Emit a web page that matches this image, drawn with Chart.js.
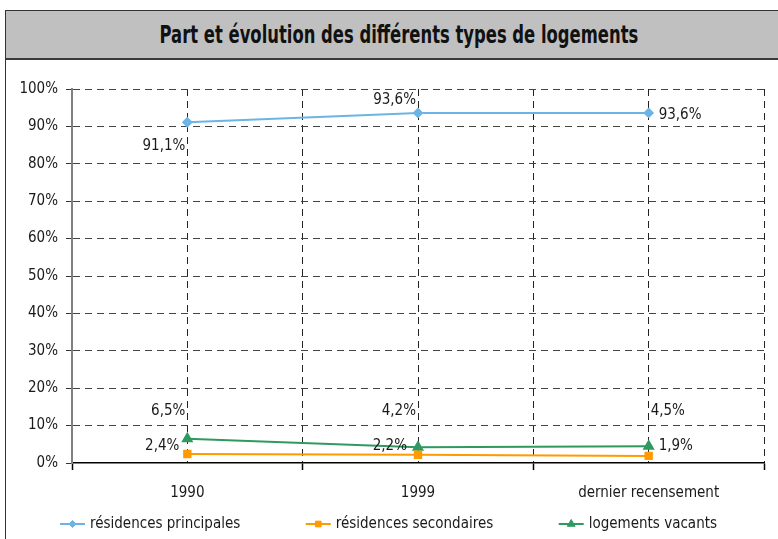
<!DOCTYPE html>
<html>
<head>
<meta charset="utf-8">
<script src="https://cdn.jsdelivr.net/npm/chart.js@4/dist/chart.umd.min.js"></script>
<style>
  body { margin: 0; width: 778px; height: 539px; overflow: hidden; background: #fff; }
  #frame { position: absolute; left: 5px; top: 10px; width: 800px; height: 560px;
           border-left: 1.5px solid #333; border-top: 1.5px solid #333; }
  #title { width: 785px; height: 47px; background: #c0c0c0; border-bottom: 2px solid #3a3a3a;
           color: #111; line-height: 47px; text-align: center; white-space: nowrap; }
  #title span { display: inline-block; position: relative; top: 3px;
                font: bold 24px 'DejaVu Sans Condensed', 'Liberation Sans Narrow', sans-serif;
                transform: scaleX(0.76); transform-origin: center; }
  #box { position: absolute; left: 0.5px; top: 50px; }
</style>
</head>
<body>
<div id="frame">
  <div id="title"><span>Part et évolution des différents types de logements</span></div>
  <div id="box"><canvas id="chart" width="771" height="478"></canvas></div>
</div>
<script>
var categories = ['1990', '1999', 'dernier recensement'];
var residencesPrincipales = [91.1, 93.6, 93.6];
var residencesSecondaires = [2.4, 2.2, 1.9];
var logementsVacants = [6.5, 4.2, 4.5];
var yTickValues = [0, 10, 20, 30, 40, 50, 60, 70, 80, 90, 100];

var FONT = "'Liberation Sans Narrow', 'DejaVu Sans Condensed', sans-serif";

// decalage des etiquettes [dx, dy, alignement]
var offsetsPrincipales = [[-2, 24, 'right'], [-2, -13, 'right'], [10, 2, 'left']];
var offsetsSecondaires = [[-8, -8, 'right'], [-11, -9, 'right'], [10, -10, 'left']];
var offsetsVacants = [[-2, -28, 'right'], [-2, -36, 'right'], [2, -35, 'left']];

function toPoints(values) {
    return values.map(function (v, i) { return { x: i + 0.5, y: v }; });
}

var pointLabels = {
    id: 'pointLabels',
    afterDatasetsDraw: function (chart) {
        var ctx = chart.ctx;
        ctx.save();
        ctx.font = '15px ' + FONT;
        ctx.fillStyle = '#1a1a1a';
        ctx.textBaseline = 'middle';
        chart.data.datasets.forEach(function (ds, di) {
            chart.getDatasetMeta(di).data.forEach(function (pt, i) {
                var o = ds.labelOffsets[i];
                ctx.textAlign = o[2];
                var txt = ds.data[i].y.toFixed(1).replace('.', ',') + '%';
                ctx.fillText(txt, pt.x + o[0], pt.y + o[1]);
            });
        });
        ctx.restore();
    }
};

var lineLegend = {
    id: 'lineLegend',
    afterDraw: function (chart) {
        var ctx = chart.ctx;
        ctx.save();
        ctx.font = '15px ' + FONT;
        ctx.textBaseline = 'middle';
        ctx.textAlign = 'left';
        var items = chart.data.datasets.map(function (ds) {
            return { ds: ds, w: 30 + ctx.measureText(ds.label).width };
        });
        var start = 53, end = 710;
        var sum = items.reduce(function (a, it) { return a + it.w; }, 0);
        var gap = (end - start - sum) / (items.length - 1);
        var x = start, y = 463;
        items.forEach(function (it) {
            var ds = it.ds;
            ctx.strokeStyle = ds.borderColor;
            ctx.fillStyle = ds.pointBackgroundColor;
            ctx.lineWidth = 2;
            ctx.beginPath();
            ctx.moveTo(x, y);
            ctx.lineTo(x + 25, y);
            ctx.stroke();
            ctx.lineWidth = 1;
            ctx.strokeStyle = ds.pointBackgroundColor;
            Chart.helpers.drawPoint(ctx, { pointStyle: ds.pointStyle, radius: ds.pointRadius - 0.5, rotation: 0, borderWidth: 1 }, x + 12.5, y);
            ctx.fillStyle = '#1a1a1a';
            ctx.fillText(ds.label, x + 30, y);
            x += it.w + gap;
        });
        ctx.restore();
    }
};

var ctx = document.getElementById('chart').getContext('2d');
var chart = new Chart(ctx, {
    type: 'line',
    data: {
        datasets: [{
            label: 'résidences principales',
            data: toPoints(residencesPrincipales),
            borderColor: '#6cb4e6',
            backgroundColor: '#6cb4e6',
            pointBackgroundColor: '#6cb4e6',
            pointBorderColor: '#6cb4e6',
            pointStyle: 'rectRot',
            pointRadius: 4,
            borderWidth: 2,
            labelOffsets: offsetsPrincipales
        }, {
            label: 'résidences secondaires',
            data: toPoints(residencesSecondaires),
            borderColor: '#ff9a00',
            backgroundColor: '#ff9a00',
            pointBackgroundColor: '#ff9a00',
            pointBorderColor: '#ff9a00',
            pointStyle: 'rect',
            pointRadius: 4.5,
            borderWidth: 2,
            labelOffsets: offsetsSecondaires
        }, {
            label: 'logements vacants',
            data: toPoints(logementsVacants),
            borderColor: '#2e9a60',
            backgroundColor: '#2e9a60',
            pointBackgroundColor: '#2e9a60',
            pointBorderColor: '#2e9a60',
            pointStyle: 'triangle',
            pointRadius: 5,
            borderWidth: 2,
            labelOffsets: offsetsVacants
        }]
    },
    options: {
        responsive: false,
        animation: false,
        devicePixelRatio: 1,
        layout: { padding: { left: 0, right: 6, top: 28, bottom: 36 } },
        plugins: {
            legend: { display: false },
            tooltip: { enabled: false }
        },
        scales: {
            x: {
                type: 'linear',
                min: 0,
                max: categories.length,
                afterBuildTicks: function (scale) {
                    var t = [];
                    for (var i = 0; i <= categories.length * 2; i++) t.push({ value: i / 2 });
                    scale.ticks = t;
                },
                afterFit: function (scale) { scale.height = 40; },
                ticks: {
                    autoSkip: false,
                    maxRotation: 0,
                    padding: 14,
                    color: '#1a1a1a',
                    font: { family: FONT, size: 15 },
                    callback: function (v) {
                        return Number.isInteger(v) ? '' : categories[Math.floor(v)];
                    }
                },
                grid: {
                    color: function (c) { return c.tick && c.tick.value === 0 ? 'rgba(0,0,0,0)' : '#222'; },
                    lineWidth: 1,
                    tickLength: 7,
                    tickColor: function (c) { return c.tick && Number.isInteger(c.tick.value) ? '#000' : 'rgba(0,0,0,0)'; },
                    tickWidth: 1.5
                },
                border: { display: true, color: '#000', width: 1.5, dash: [7, 5] }
            },
            y: {
                min: 0,
                max: 100,
                afterBuildTicks: function (scale) {
                    scale.ticks = yTickValues.map(function (v) { return { value: v }; });
                },
                afterFit: function (scale) { scale.width = 65; },
                ticks: {
                    padding: 8,
                    color: '#1a1a1a',
                    font: { family: FONT, size: 15 },
                    callback: function (v) { return v + '%'; }
                },
                grid: {
                    color: function (c) { return c.tick && c.tick.value === 0 ? 'rgba(0,0,0,0)' : '#444'; },
                    lineWidth: 1,
                    tickLength: 6,
                    tickColor: '#333',
                    tickWidth: 1
                },
                border: { display: true, color: '#808080', width: 2, dash: [7, 5] }
            }
        }
    },
    plugins: [pointLabels, lineLegend]
});
</script>
</body>
</html>
